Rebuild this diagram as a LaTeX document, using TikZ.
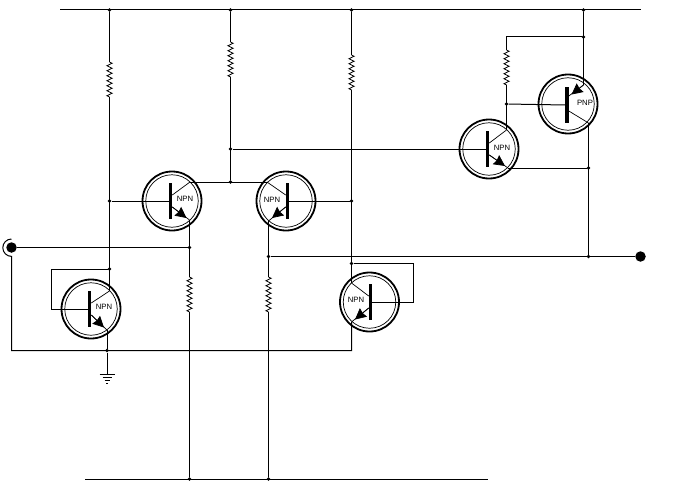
\documentclass[tikz,border=0pt]{standalone}
\usepackage{fontspec}
\newfontfamily\npnfont{Liberation Sans}
\usetikzlibrary{arrows.meta,decorations.pathmorphing}

\tikzset{
wire/.style={line width=1pt},
leg/.style={line width=0.7pt},
res/.style={line width=0.8pt, decorate, decoration={zigzag, segment length=5pt, amplitude=2.6pt}},
dot/.style={circle, fill=black, inner sep=0pt, minimum size=3.6pt},
terminal/.style={circle, fill=black, inner sep=0pt, minimum size=10.5pt},
ring/.style={circle, draw=black, line width=1.8pt, inner sep=0pt, minimum size=59pt},
innerring/.style={circle, draw=black, line width=0.7pt, inner sep=0pt, minimum size=52.5pt},
bar/.style={rectangle, fill=black, inner sep=0pt, minimum width=3.2pt, minimum height=36pt},
tname/.style={font=\npnfont\fontsize{7.7}{8}\selectfont, inner sep=0pt},
tip/.style={line width=0.7pt, -{Stealth[length=11pt,width=11pt,inset=1pt]}}
}

\begin{document}
\begin{tikzpicture}[x=1pt,y=-1pt]
\useasboundingbox (0,0) rectangle (700,500);

% transistors
\node[ring] (Q1) at (91,309) {};
\node[ring] (Q2) at (172,201) {};
\node[ring] (Q3) at (286,201) {};
\node[ring] (Q4) at (369.5,302) {};
\node[ring] (Q5) at (489,149) {};
\node[ring] (Q6) at (568,104) {};
\foreach \q in {Q1,Q2,Q3,Q4,Q5,Q6}
  \node[innerring] (\q i) at (\q) {};
\node[bar] (B1) at (89.5,309) {};
\node[bar] (B2) at (170.5,201) {};
\node[bar] (B3) at (287.5,201) {};
\node[bar] (B4) at (370.5,302) {};
\node[bar] (B5) at (487.5,149) {};
\node[bar] (B6) at (567,105) {};
\node[tname] (T1) at (104,307) {NPN};
\node[tname] (T2) at (185,199) {NPN};
\node[tname] (T3) at (272,200) {NPN};
\node[tname] (T4) at (356,300) {NPN};
\node[tname] (T5) at (502,147.5) {NPN};
\node[tname] (T6) at (585,103) {PNP};

% rails and junctions
\coordinate (TL) at (60,10);
\coordinate (TR) at (641,10);
\coordinate (BL) at (85,479);
\coordinate (BR) at (488,479);
\node[dot] (J1) at (109.5,10) {};
\node[dot] (J2) at (230.5,10) {};
\node[dot] (J3) at (351.5,10) {};
\node[dot] (J4) at (583.5,10) {};
\node[dot] (J5) at (189.5,479) {};
\node[dot] (J6) at (268.5,479) {};
\node[dot] (J7) at (109.5,201) {};
\node[dot] (J8) at (109.5,269) {};
\node[dot] (J9) at (230.5,182) {};
\node[dot] (J10) at (230.5,149) {};
\node[dot] (J11) at (351.5,201) {};
\node[dot] (J12) at (268.5,256.5) {};
\node[dot] (J13) at (351.5,263.5) {};
\node[dot] (J14) at (588.5,256.5) {};
\node[dot] (J15) at (189.5,247.5) {};
\node[dot] (J16) at (107,350.5) {};
\node[dot] (J17) at (583.5,37) {};
\node[dot] (J18) at (506.5,104) {};
\node[dot] (J19) at (588.5,168) {};
\node[terminal] (IN) at (11.5,247.5) {};
\node[terminal] (OUT) at (640.5,256.5) {};

% collector and emitter ends
\coordinate (C1) at (109.5,291);
\coordinate (E1) at (107,330);
\coordinate (C2) at (190,182);
\coordinate (E2) at (189.5,220);
\coordinate (C3) at (267,182);
\coordinate (E3) at (268.5,221);
\coordinate (C4) at (351.5,283);
\coordinate (E4) at (351.5,322);
\coordinate (C5) at (506.5,130);
\coordinate (E5) at (508,168);
\coordinate (E6) at (583.5,85);
\coordinate (C6) at (588.5,123);

% resistor ends
\coordinate (R1a) at (109.5,62);
\coordinate (R1b) at (109.5,97);
\coordinate (R2a) at (230.5,42);
\coordinate (R2b) at (230.5,79);
\coordinate (R3a) at (351.5,55);
\coordinate (R3b) at (351.5,92);
\coordinate (R4a) at (506.5,50);
\coordinate (R4b) at (506.5,87);
\coordinate (R5a) at (189.5,277);
\coordinate (R5b) at (189.5,312);
\coordinate (R6a) at (268.5,277);
\coordinate (R6b) at (268.5,312);
\foreach \r in {R1,R2,R3,R4,R5,R6}
  \draw[res] (\r a) -- (\r b);

% supply lines
\draw[wire] (TL) -- (TR);
\draw[wire] (BL) -- (BR);
\draw[wire] (J1) -- (R1a);
\draw[wire] (R1b) -- (C1);
\draw[wire] (J2) -- (R2a);
\draw[wire] (R2b) -- (J9);
\draw[wire] (J3) -- (R3a);
\draw[wire] (R3b) -- (C4);
\draw[wire] (J4) -- (E6);
\draw[wire] (J17) -| (R4a);
\draw[wire] (R4b) -- (C5);

% bases
\draw[wire] (J7) -- (B2.west);
\draw[wire] (J11) -- (B3.east);
\draw[wire] (J10) -- (B5.west);
\draw[wire] (J18) -- (B6.west);
\draw[wire] (J8) -| (51.5,309) -- (B1.west);
\draw[wire] (J13) -| (413.5,302) -- (B4.east);

% collectors and emitters
\draw[wire] (C2) -- (C3);
\draw[wire] (J10) -- (J9);
\draw[wire] (E2) -- (R5a);
\draw[wire] (R5b) -- (J5);
\draw[wire] (E3) -- (R6a);
\draw[wire] (R6b) -- (J6);
\draw[wire] (J12) -- (OUT);
\draw[wire] (E5) -- (J19);
\draw[wire] (C6) -- (J14);
\draw[wire] (IN) -- (J15);

% return line with the input ring
\draw[wire] (11.5,239) arc[start angle=90, end angle=270, radius=8.7pt] -- (11.5,350.5) -- (351.5,350.5) -- (E4);
\draw[wire] (E1) -- (J16);

% ground
\coordinate (GND) at (107,374);
\draw[wire] (J16) -- (GND);
\foreach \d/\w in {0/7.5,3.4/4.5,6.8/2.5,9.5/1}
  \draw[wire] ([xshift=-\w pt,yshift=-\d pt]GND) -- ([xshift=\w pt,yshift=-\d pt]GND);

% transistor legs
\draw[leg] ([yshift=6pt]B1.east) -- (C1);
\draw[leg] ([yshift=-6pt]B1.east) -- (E1);
\draw[leg] ([yshift=6pt]B2.east) -- (C2);
\draw[leg] ([yshift=-6pt]B2.east) -- (E2);
\draw[leg] ([yshift=6pt]B3.west) -- (C3);
\draw[leg] ([yshift=-6pt]B3.west) -- (E3);
\draw[leg] ([yshift=6pt]B4.west) -- (C4);
\draw[leg] ([yshift=-6pt]B4.west) -- (E4);
\draw[leg] ([yshift=6pt]B5.east) -- (C5);
\draw[leg] ([yshift=-6pt]B5.east) -- (E5);
\draw[leg] ([yshift=9pt]B6.east) -- (E6);
\draw[leg] ([yshift=-6pt]B6.east) -- (C6);

% emitter arrows
\draw[tip] ([yshift=-6pt]B1.east) -- (104,327.5);
\draw[tip] ([yshift=-6pt]B2.east) -- (186.5,218);
\draw[tip] ([yshift=-6pt]B3.west) -- (272,218);
\draw[tip] ([yshift=-6pt]B4.west) -- (355,319.5);
\draw[tip] ([yshift=-6pt]B5.east) -- (505,166);
\draw[tip] (E6) -- (571.5,94.5);

\end{tikzpicture}
\end{document}
